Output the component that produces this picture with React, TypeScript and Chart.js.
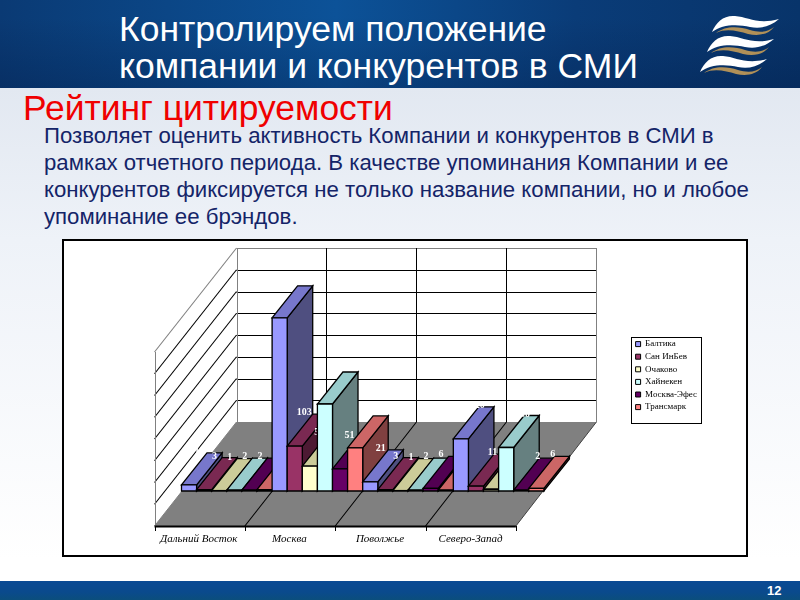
import React, { useEffect, useRef } from "react";
import { Chart, registerables } from "chart.js";

Chart.register(...registerables);

const categories = ["Дальний Восток", "Москва", "Поволжье", "Северо-Запад"];
const baltika = [14, 398, 21, 120];
const sanInBev = [3, 103, 3, 11];
const ochakovo = [1, 57, 1, 4];
const heineken = [2, 200, 2, 100];
const moscowEfes = [2, 51, 6, 2];
const transmark = [3, 99, 2, 6];

const seriesNames = ["Балтика", "Сан ИнБев", "Очаково", "Хайнекен", "Москва-Эфес", "Трансмарк"];
const seriesValues = [baltika, sanInBev, ochakovo, heineken, moscowEfes, transmark];
const frontColors = ["#9999FF", "#993366", "#FFFFCC", "#CCFFFF", "#660066", "#FF8080"];
const topColors = ["#7777CC", "#7A2952", "#CCCC99", "#99CCCC", "#520052", "#CC6666"];
const sideColors = ["#4F4F80", "#4D1A33", "#808066", "#668080", "#330033", "#804040"];

const titleLines = ["Контролируем положение", "компании и конкурентов в СМИ"];
const subtitle = "Рейтинг цитируемости";
const bodyLines = [
  "Позволяет оценить активность Компании и конкурентов в СМИ в",
  "рамках отчетного периода. В качестве упоминания Компании и ее",
  "конкурентов фиксируется не только название компании, но и любое",
  "упоминание ее брэндов.",
];
const pageNumber = "12";

const BAR_DX = 25.5;
const BAR_DY = 32;
const FLOOR_FRONT_DX = 27;
const FLOOR_FRONT_DY = 35;
const FLOOR_BACK_DX = 55;
const FLOOR_BACK_DY = 69;
const LABEL_DX = [18, 17, 18, 24];

function poly(ctx: CanvasRenderingContext2D, pts: number[][], fill: string | null, stroke: string | null) {
  ctx.beginPath();
  pts.forEach((p, i) => (i ? ctx.lineTo(p[0], p[1]) : ctx.moveTo(p[0], p[1])));
  ctx.closePath();
  if (fill) {
    ctx.fillStyle = fill;
    ctx.fill();
  }
  if (stroke) {
    ctx.strokeStyle = stroke;
    ctx.stroke();
  }
}

const snap = (v: number) => Math.round(v) + 0.5;

function line(ctx: CanvasRenderingContext2D, a: number[], b: number[], color: string, w = 1) {
  let [x0, y0] = a;
  let [x1, y1] = b;
  if (y0 === y1) {
    y0 = snap(y0);
    y1 = y0;
  }
  if (x0 === x1) {
    x0 = snap(x0);
    x1 = x0;
  }
  ctx.beginPath();
  ctx.moveTo(x0, y0);
  ctx.lineTo(x1, y1);
  ctx.strokeStyle = color;
  ctx.lineWidth = w;
  ctx.stroke();
}

const scene3d = {
  id: "scene3d",
  beforeDraw(chart: any) {
    const lg = chart.legend;
    lg.left = 569;
    lg.right = 645;
    lg.top = 96;
    lg.bottom = 190;
    const ctx = chart.ctx;
    ctx.save();
    ctx.lineWidth = 1;
    ctx.strokeStyle = "#000";
    ctx.fillStyle = "#fff";
    ctx.fillRect(568.5, 97.5, 70, 86);
    ctx.strokeRect(568.5, 97.5, 70, 86);
    ctx.restore();
  },
  beforeDatasetsDraw(chart: any) {
    const { ctx, chartArea: a, scales } = chart;
    const y = scales.y;
    const base = y.getPixelForValue(0);
    const fl = a.left - FLOOR_FRONT_DX;
    const fr = a.right - FLOOR_FRONT_DX - 1;
    const fy = base + FLOOR_FRONT_DY;
    const bl = a.left + FLOOR_BACK_DX;
    const br = a.right + FLOOR_BACK_DX - 2.5;
    const by = base - FLOOR_BACK_DY;
    ctx.save();
    poly(ctx, [[fl, fy], [fr, fy], [br, by], [bl, by]], "#808080", null);
    const ticks = y.ticks.map((t: any) => y.getPixelForValue(t.value) - base);
    ticks.forEach((d: number, i: number) => {
      if (i === 0) return;
      const last = i === ticks.length - 1;
      const col = last ? "#808080" : "#000";
      line(ctx, [bl, by + d], [br, by + d], col);
      line(ctx, [fl, fy + d], [bl, by + d], col, 1.1);
    });
    const topD = ticks[ticks.length - 1];
    line(ctx, [fl, fy], [fl, fy + topD], "#808080");
    line(ctx, [bl, by], [bl, by + topD], "#808080");
    line(ctx, [br, by], [br, by + topD], "#808080");
    line(ctx, [fl, fy], [bl, by], "#808080");
    const n = categories.length;
    for (let i = 1; i < n; i++) {
      const fx = fl + ((fr - fl) * i) / n;
      const bx = bl + ((br - bl) * i) / n;
      line(ctx, [bx, by], [bx, by + topD], "#000");
      line(ctx, [fx, fy], [bx, by], "#000", 1.1);
    }
    line(ctx, [fr, fy], [br, by], "#404040");
    line(ctx, [fl, fy], [fr, fy], "#000", 2);
    for (let i = 0; i <= n; i++) {
      const fx = fl + ((fr - fl) * i) / n;
      line(ctx, [fx, fy], [fx, fy + 5], "#000");
    }
    ctx.restore();
  },
  afterDatasetsDraw(chart: any) {
    const { ctx } = chart;
    ctx.save();
    ctx.lineWidth = 1.3;
    ctx.lineJoin = "miter";
    ctx.font = "bold 10px 'Liberation Serif'";
    ctx.textAlign = "center";
    ctx.textBaseline = "middle";
    categories.forEach((_, c) => {
      seriesValues.forEach((s, d) => {
        const bar = chart.getDatasetMeta(d).data[c];
        const w = bar.width;
        const l = bar.x - w / 2;
        const r = bar.x + w / 2;
        const t = bar.y;
        const b = bar.base;
        poly(ctx, [[r, t], [r + BAR_DX, t - BAR_DY], [r + BAR_DX, b - BAR_DY], [r, b]], sideColors[d], "#000");
        poly(ctx, [[l, t], [r, t], [r + BAR_DX, t - BAR_DY], [l + BAR_DX, t - BAR_DY]], topColors[d], "#000");
        poly(ctx, [[l, t], [r, t], [r, b], [l, b]], frontColors[d], "#000");
        ctx.fillStyle = "#fff";
        ctx.fillText(String(s[c]), l + LABEL_DX[c], t - 33.5);
      });
    });
    ctx.restore();
  },
};

function App() {
  const ref = useRef<HTMLCanvasElement | null>(null);
  useEffect(() => {
    const chart = new Chart(ref.current as HTMLCanvasElement, {
      type: "bar",
      data: {
        labels: categories,
        datasets: seriesNames.map((name, i) => ({
          label: name,
          data: seriesValues[i],
          backgroundColor: frontColors[i],
          borderColor: "#000",
          borderWidth: 1,
          barPercentage: 1,
          categoryPercentage: 1,
        })),
      },
      options: {
        responsive: false,
        animation: false,
        layout: { padding: { left: 118.5, top: 77, right: 128, bottom: 0 } },
        plugins: {
          tooltip: { enabled: false },
          legend: {
            display: true,
            position: "right",
            align: "start",
            labels: {
              boxWidth: 5,
              boxHeight: 5,
              padding: 3.6,
              color: "#000",
              font: { family: "'Liberation Serif'", size: 9 },
            },
          },
        },
        scales: {
          x: {
            grid: { display: false, drawTicks: false },
            border: { display: false },
            afterFit: (s: any) => {
              s.height = 65;
            },
            ticks: {
              autoSkip: false,
              maxRotation: 0,
              padding: 41.5,
              labelOffset: -28,
              color: "#000",
              font: { family: "'Liberation Serif'", size: 11, style: "italic" },
            },
          },
          y: {
            display: false,
            min: 0,
            max: 400,
            ticks: { stepSize: 50 },
          },
        },
      } as any,
      plugins: [scene3d],
    });
    return () => chart.destroy();
  }, []);

  const text: React.CSSProperties = {
    position: "absolute",
    whiteSpace: "nowrap",
    fontFamily: "'Liberation Sans', Arial, sans-serif",
    margin: 0,
  };

  return (
    <div
      style={{
        position: "absolute",
        left: 0,
        top: 0,
        width: 800,
        height: 600,
        overflow: "hidden",
        background: "linear-gradient(180deg,#E2E8F1 88px,#EEF2F8 240px,#FFFFFF 560px)",
      }}
    >
      <div
        style={{
          position: "absolute",
          left: 0,
          top: 0,
          width: 800,
          height: 88,
          background:
            "linear-gradient(180deg,rgba(0,0,0,0) 20%,rgba(0,20,60,.28) 100%),linear-gradient(90deg,#0A3A74 0%,#0C5298 42%,#0A3C78 72%,#08346A 100%)",
        }}
      />
      {titleLines.map((t, i) => (
        <div key={i} style={{ ...text, left: 119, top: 11 + i * 37, fontSize: 35.5, lineHeight: "37px", color: "#fff" }}>
          {t}
        </div>
      ))}
      <svg width={800} height={88} style={{ position: "absolute", left: 0, top: 0 }}>
        {[[0, 0], [-5, 20], [-12, 40]].map((o, i) => (
          <g key={i} transform={`translate(${o[0]},${o[1]})`}>
            <path d="M716 33 C725 26 738 26 750 30 C760 33 768 32 774 27 C768 35 758 36 748 34 C738 31 726 28 716 33 Z" fill="#B09058" />
            <path d="M712 32 C716 22 724 15 735 16 C748 17 758 25 779 19 C770 27 760 29 750 27 C738 24 722 24 712 32 Z" fill="#fff" />
          </g>
        ))}
      </svg>
      <div style={{ ...text, left: 23, top: 90, fontSize: 35.4, lineHeight: "36px", color: "#F00000" }}>{subtitle}</div>
      {bodyLines.map((t, i) => (
        <div key={i} style={{ ...text, left: 44, top: 121.5 + i * 27, fontSize: 22.2, lineHeight: "27px", color: "#142468" }}>
          {t}
        </div>
      ))}
      <div
        style={{
          position: "absolute",
          left: 63,
          top: 240,
          width: 684,
          height: 316,
          background: "#fff",
          outline: "2px solid #000",
          outlineOffset: "-1px",
        }}
      >
        <canvas ref={ref} width={684} height={316} style={{ display: "block", position: "relative" }} />
      </div>
      <div
        style={{
          position: "absolute",
          left: 0,
          top: 581,
          width: 800,
          height: 19,
          background: "linear-gradient(180deg,#0A4A94 0%,#0A4A8C 60%,#0B4E7C 100%)",
        }}
      />
      <div style={{ ...text, left: 767, top: 582, fontSize: 13, lineHeight: "17px", fontWeight: 700, color: "#fff" }}>{pageNumber}</div>
    </div>
  );
}

export default App;
